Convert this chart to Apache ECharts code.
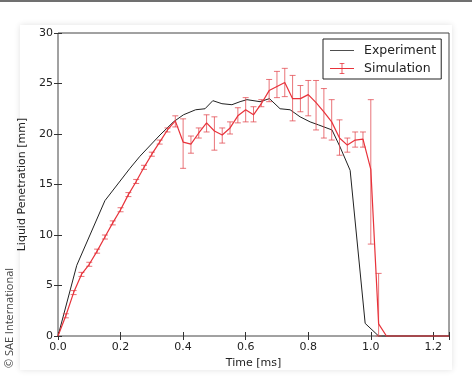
<!DOCTYPE html>
<html>
<head>
<meta charset="utf-8">
<script src="https://cdn.jsdelivr.net/npm/echarts@6/dist/echarts.min.js"></script>
<style>
  html, body { margin: 0; padding: 0; background: #fff; }
  #chart { width: 472px; height: 384px; }
</style>
</head>
<body>
<div id="chart"></div>
<script>
// Experiment (black line)
const expTime = [0, 0.06, 0.15, 0.23, 0.262, 0.326, 0.369, 0.401, 0.44, 0.47, 0.495, 0.524, 0.556, 0.582, 0.604, 0.646, 0.676, 0.71, 0.742, 0.774, 0.806, 0.833, 0.876, 0.902, 0.934, 0.982, 1.025, 1.25]
const expValue = [0, 7.0, 13.4, 16.6, 17.8, 19.9, 21.2, 21.9, 22.4, 22.5, 23.3, 23.0, 22.9, 23.2, 23.4, 23.2, 23.5, 22.5, 22.4, 21.7, 21.2, 20.9, 20.4, 18.7, 16.4, 1.25, 0, 0]

// Simulation (red line with error bars)
const simTime = [0, 0.025, 0.05, 0.075, 0.1, 0.125, 0.15, 0.175, 0.2, 0.225, 0.25, 0.275, 0.3, 0.325, 0.35, 0.375, 0.4, 0.425, 0.45, 0.475, 0.5, 0.525, 0.55, 0.575, 0.6, 0.625, 0.65, 0.675, 0.7, 0.725, 0.75, 0.775, 0.8, 0.825, 0.85, 0.875, 0.9, 0.925, 0.95, 0.975, 1.0, 1.025, 1.05, 1.25]
const simValue = [0, 2.0, 4.3, 6.1, 7.1, 8.4, 9.8, 11.2, 12.5, 14.0, 15.3, 16.7, 18.0, 19.2, 20.4, 21.3, 19.2, 19.0, 20.1, 21.1, 20.3, 19.9, 20.6, 21.8, 22.4, 21.9, 23.0, 24.3, 24.7, 25.1, 23.5, 23.5, 23.9, 23.1, 22.2, 21.2, 19.6, 18.9, 19.4, 19.5, 16.5, 1.2, 0, 0]
const simLow = [0, 1.8, 4.1, 5.9, 6.9, 8.2, 9.6, 11.0, 12.3, 13.8, 15.1, 16.5, 17.8, 19.0, 20.2, 20.7, 16.6, 18.1, 19.6, 20.2, 18.4, 19.1, 20.0, 21.1, 21.2, 21.2, 22.7, 23.2, 23.6, 23.7, 21.3, 22.2, 21.8, 20.4, 19.6, 19.4, 17.9, 18.2, 18.7, 18.7, 9.1, 0, 0, 0]
const simHigh = [0, 2.2, 4.5, 6.3, 7.3, 8.6, 10.0, 11.4, 12.7, 14.2, 15.5, 16.9, 18.2, 19.4, 20.6, 21.8, 21.5, 19.8, 20.6, 21.9, 21.7, 20.6, 21.2, 22.6, 23.6, 22.7, 23.4, 25.4, 26.2, 26.5, 25.8, 24.8, 25.3, 25.3, 24.5, 23.4, 21.4, 19.6, 20.2, 20.2, 23.4, 6.2, 0, 0]

const font = 'DejaVu Sans'
const red = '#e8323a'
const errColor = 'rgba(226, 70, 76, 0.75)'

const chart = echarts.init(document.getElementById('chart'))

const tickStyle = { inside: true, length: 4, lineStyle: { color: '#333' } }

const option = {
  animation: false,
  graphic: [
    { type: 'rect', shape: { x: 0, y: 0, width: 472, height: 2 }, style: { fill: '#707070' }, z: -1 },
    {
      type: 'rect', z: -10,
      shape: { x: 20, y: 25, width: 432, height: 345 },
      style: { fill: '#fff', shadowBlur: 6, shadowColor: 'rgba(0,0,0,0.12)' }
    },
    {
      type: 'text', x: 10, y: 318, rotation: Math.PI / 2,
      style: { text: '© SAE International', fontSize: 11, fontFamily: 'Open Sans', fill: '#444', align: 'center', verticalAlign: 'middle' }
    }
  ],
  grid: { left: 58, right: 23, top: 33, bottom: 48, show: true, borderColor: '#444', borderWidth: 1, backgroundColor: 'transparent' },
  legend: {
    orient: 'vertical',
    left: 323, top: 39,
    backgroundColor: '#fff',
    borderColor: '#222', borderWidth: 1, borderRadius: 0,
    padding: [5, 5, 4, 7],
    itemGap: 5, itemWidth: 24, itemHeight: 14,
    textStyle: { fontFamily: font, fontSize: 12.5, color: '#222', padding: [0, 0, 0, 5] },
    data: [
      { name: 'Experiment', icon: 'path://M0,6.5h30v1h-30z', itemStyle: { color: '#222' } },
      { name: 'Simulation', icon: 'path://M0,6.5h30v1h-30z M14.5,0h1v14h-1z M12,0h6v1h-6z M12,13h6v1h-6z', itemStyle: { color: red } }
    ]
  },
  xAxis: [
    {
      type: 'value', min: 0, max: 1.25, interval: 0.2,
      name: 'Time [ms]', nameLocation: 'middle', nameGap: 19,
      nameTextStyle: { fontFamily: font, fontSize: 11, color: '#222' },
      axisLine: { show: false }, splitLine: { show: false },
      axisTick: tickStyle,
      axisLabel: {
        fontFamily: font, fontSize: 11, color: '#222', margin: 6,
        formatter: v => (Math.abs(v - 1.25) < 1e-6 ? '' : v.toFixed(1))
      }
    },
    {
      type: 'value', position: 'top', min: 0, max: 1.25, interval: 0.2,
      axisLine: { show: false }, splitLine: { show: false },
      axisTick: tickStyle, axisLabel: { show: false }
    }
  ],
  yAxis: [
    {
      type: 'value', min: 0, max: 30, interval: 5,
      name: 'Liquid Penetration [mm]', nameLocation: 'middle', nameGap: 20,
      nameTextStyle: { fontFamily: font, fontSize: 11, color: '#222' },
      axisLine: { show: false }, splitLine: { show: false },
      axisTick: tickStyle,
      axisLabel: { fontFamily: font, fontSize: 11, color: '#222', margin: 5 }
    },
    {
      type: 'value', position: 'right', min: 0, max: 30, interval: 5,
      axisLine: { show: false }, splitLine: { show: false },
      axisTick: tickStyle, axisLabel: { show: false }
    }
  ],
  series: [
    {
      name: 'Experiment', type: 'line', clip: false, z: 3,
      data: expTime.map((t, i) => [t, expValue[i]]),
      showSymbol: false, symbol: 'none',
      lineStyle: { color: '#222', width: 1 },
      itemStyle: { color: '#222' }
    },
    {
      name: 'Simulation', type: 'custom', z: 4,
      itemStyle: { color: red },
      data: simTime.map((t, i) => [t, simLow[i], simHigh[i]]),
      renderItem: (params, api) => {
        const lo = api.value(1)
        const hi = api.value(2)
        if (hi - lo <= 0) return null
        const pLo = api.coord([api.value(0), lo])
        const pHi = api.coord([api.value(0), hi])
        const cap = 3
        const st = { stroke: errColor, lineWidth: 1, fill: null }
        return {
          type: 'group',
          children: [
            { type: 'line', shape: { x1: pLo[0], y1: pLo[1], x2: pHi[0], y2: pHi[1] }, style: st },
            { type: 'line', shape: { x1: pLo[0] - cap, y1: pLo[1], x2: pLo[0] + cap, y2: pLo[1] }, style: st },
            { type: 'line', shape: { x1: pHi[0] - cap, y1: pHi[1], x2: pHi[0] + cap, y2: pHi[1] }, style: st }
          ]
        }
      }
    },
    {
      name: 'Simulation', type: 'line', clip: false, z: 5,
      data: simTime.map((t, i) => [t, simValue[i]]),
      showSymbol: false, symbol: 'none',
      lineStyle: { color: red, width: 1.2 },
      itemStyle: { color: red }
    }
  ]
}

chart.setOption(option)
</script>
</body>
</html>
